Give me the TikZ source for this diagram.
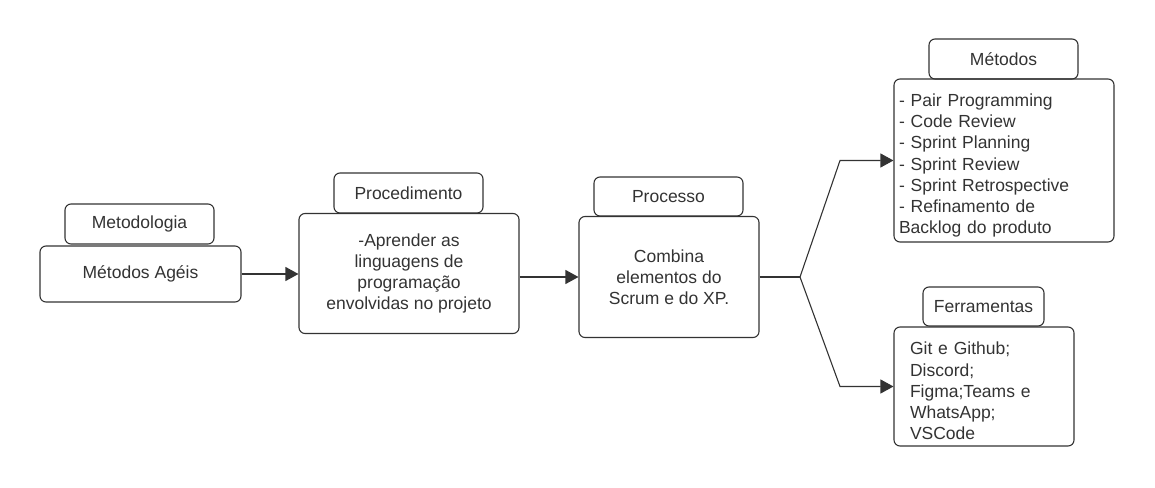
\documentclass[tikz,border=0pt]{standalone}
\usepackage{fontspec}
\setmainfont{Liberation Sans}
\usetikzlibrary{arrows.meta}
\definecolor{ink}{HTML}{333333}
\tikzset{
  box/.style={draw=ink, line width=1.1pt, rounded corners=6pt, inner sep=0pt, text=ink,
    font=\fontsize{17.5}{21}\selectfont},
  txt/.style={inner sep=0pt, text=ink, font=\fontsize{17.5}{21.2}\selectfont, align=left},
  conn/.style={draw=ink, line width=1.1pt, -{Triangle[length=13pt,width=14pt]}},
  plain/.style={draw=ink, line width=1.1pt}
}
\begin{document}
\begin{tikzpicture}[x=1pt,y=-1pt]
\useasboundingbox (0,0) rectangle (1155,487);
% labels
\node[box, minimum width=149pt, minimum height=40pt] (lmet) at (139.5,224) {Metodologia};
\node[box, minimum width=149pt, minimum height=40pt] (lproc) at (408.5,193) {Procedimento};
\node[box, minimum width=149pt, minimum height=39pt] (lpr) at (668.5,196.5) {Processo};
\node[box, minimum width=149pt, minimum height=40pt] (lmtd) at (1003.5,59) {Métodos};
\node[box, minimum width=121pt, minimum height=39pt] (lfer) at (983.5,306.5) {Ferramentas};
% main boxes
\node[box, minimum width=201pt, minimum height=56pt] (agile) at (140.5,274) {Métodos Agéis};
\node[box, minimum width=220pt, minimum height=120pt, align=center] (proc) at (409,273.5)
  {-Aprender as\\linguagens de\\programação\\envolvidas no projeto};
\node[box, minimum width=180pt, minimum height=121pt, align=center] (pr) at (669,277)
  {Combina\\elementos do\\Scrum e do XP.};
\node[box, minimum width=220pt, minimum height=163pt] (mtd) at (1004,160.5) {};
\node[txt, text width=210pt] (mtdt) at (1004,165.5)
  {- Pair Programming\\- Code Review\\- Sprint Planning\\- Sprint Review\\- Sprint Retrospective\\- Refinamento de\\Backlog do produto};
\node[box, minimum width=180pt, minimum height=119pt] (fer) at (984,386.5) {};
\node[txt, text width=148pt] (fert) at (984,391)
  {Git e Github;\\Discord;\\Figma;Teams e\\WhatsApp;\\VSCode};
% connectors
\coordinate (br) at (800,277);
\coordinate (up) at (840,160.5);
\coordinate (dn) at (840,386.5);
\draw[conn] (agile.east) -- (proc.west |- agile.east);
\draw[conn] (proc.east |- pr.west) -- (pr.west);
\draw[plain] (pr.east) -- (br);
\draw[conn] (br) -- (up) -- (mtd.west);
\draw[conn] (br) -- (dn) -- (fer.west);
\end{tikzpicture}
\end{document}
